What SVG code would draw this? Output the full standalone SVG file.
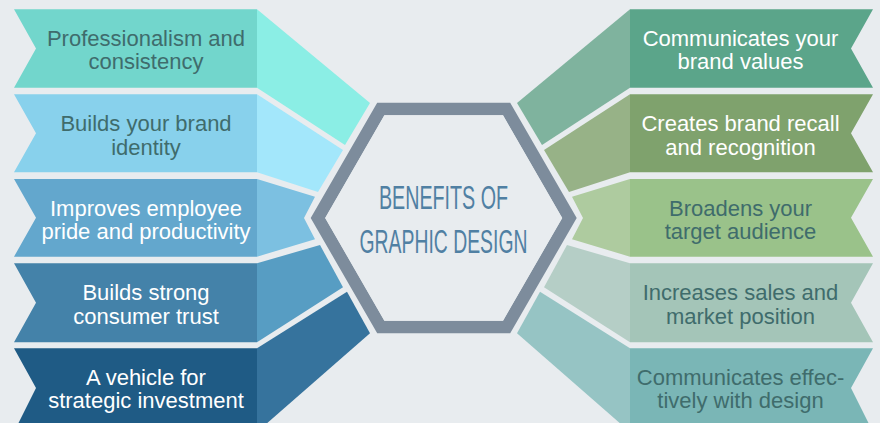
<svg xmlns="http://www.w3.org/2000/svg" width="880" height="423" viewBox="0 0 880 423">
<style>
.t{font-family:"Liberation Sans",Arial,sans-serif;font-size:22px;text-anchor:middle}
.d{fill:#3f6c6c}
.w{fill:#ffffff}
.c{font-family:"Liberation Sans",Arial,sans-serif;font-size:33px;fill:#5080a3;text-anchor:middle}
</style>
<rect width="880" height="423" fill="#e8ecef"/>
<g id="left-1">
<polygon points="257,9.3 370,103 345,145 257,87.7" fill="#8beee5"/>
<polygon points="14,9.3 257,9.3 257,87.7 14,87.7 36,48.5" fill="#72d6cc"/>
<text class="t d" x="146" y="45.5">Professionalism and</text>
<text class="t d" x="146" y="69">consistency</text>
</g>
<g id="left-2">
<polygon points="257,94.3 343,150 318,192 257,172.3" fill="#a3e7fb"/>
<polygon points="14,94.3 257,94.3 257,172.3 14,172.3 36,133.3" fill="#88d1ec"/>
<text class="t d" x="146" y="130.5">Builds your brand</text>
<text class="t d" x="146" y="154.5">identity</text>
</g>
<g id="left-3">
<polygon points="257,179 315,196.7 304,218 315,239.3 257,256.7" fill="#7cc0e1"/>
<polygon points="14,179 257,179 257,256.7 14,256.7 36,217.8" fill="#63a7cd"/>
<text class="t w" x="146" y="215.5">Improves employee</text>
<text class="t w" x="146" y="239">pride and productivity</text>
</g>
<g id="left-4">
<polygon points="257,263.3 320,245 343,287.3 257,342.3" fill="#579dc3"/>
<polygon points="14,263.3 257,263.3 257,342.3 14,342.3 36,302.8" fill="#4482a9"/>
<text class="t w" x="146" y="300">Builds strong</text>
<text class="t w" x="146" y="323.5">consumer trust</text>
</g>
<g id="left-5">
<polygon points="257,348.3 347,291.7 370,333.3 257,432" fill="#36739d"/>
<polygon points="14,348.3 257,348.3 257,432 14,432 36,388" fill="#1f5b85"/>
<text class="t w" x="146" y="384.5">A vehicle for</text>
<text class="t w" x="146" y="408">strategic investment</text>
</g>
<g id="right-1">
<polygon points="630,9.3 517,103 542,145 630,87.7" fill="#7fb39e"/>
<polygon points="630,9.3 873,9.3 851,48.5 873,87.7 630,87.7" fill="#5ba58a"/>
<text class="t w" x="740.5" y="45.5">Communicates your</text>
<text class="t w" x="740.5" y="69">brand values</text>
</g>
<g id="right-2">
<polygon points="630,94.3 544,150 569,192 630,172.3" fill="#97b287"/>
<polygon points="630,94.3 873,94.3 851,133.3 873,172.3 630,172.3" fill="#7fa26d"/>
<text class="t w" x="740.5" y="130.5">Creates brand recall</text>
<text class="t w" x="740.5" y="154.5">and recognition</text>
</g>
<g id="right-3">
<polygon points="630,179 572,196.7 583,218 572,239.3 630,256.7" fill="#aecb9f"/>
<polygon points="630,179 873,179 851,217.8 873,256.7 630,256.7" fill="#9ac28a"/>
<text class="t d" x="740.5" y="215.5">Broadens your</text>
<text class="t d" x="740.5" y="239">target audience</text>
</g>
<g id="right-4">
<polygon points="630,263.3 567,245 544,287.3 630,342.3" fill="#b5cec6"/>
<polygon points="630,263.3 873,263.3 851,302.8 873,342.3 630,342.3" fill="#a4c5b8"/>
<text class="t d" x="740.5" y="300">Increases sales and</text>
<text class="t d" x="740.5" y="323.5">market position</text>
</g>
<g id="right-5">
<polygon points="630,348.3 540,291.7 517,333.3 630,432" fill="#96c4c4"/>
<polygon points="630,348.3 873,348.3 851,388 873,432 630,432" fill="#7ab6b6"/>
<text class="t d" x="740.5" y="384.5">Communicates effec-</text>
<text class="t d" x="740.5" y="408">tively with design</text>
</g>
<g id="center">
<path d="M310.7,218 L377.2,102.8 L510.2,102.8 L576.7,218 L510.2,333.2 L377.2,333.2 Z M325.2,218 L384.4,115.3 L503,115.3 L562.2,218 L503,320.7 L384.4,320.7 Z" fill="#7d8c9c" fill-rule="evenodd"/>
<path d="M325.2,218 L384.4,115.3 L503,115.3 L562.2,218 L503,320.7 L384.4,320.7 Z" fill="#e8ecef"/>
<text class="c" x="443.5" y="209" textLength="129" lengthAdjust="spacingAndGlyphs">BENEFITS OF</text>
<text class="c" x="443.5" y="252.5" textLength="168" lengthAdjust="spacingAndGlyphs">GRAPHIC DESIGN</text>
</g>
</svg>
